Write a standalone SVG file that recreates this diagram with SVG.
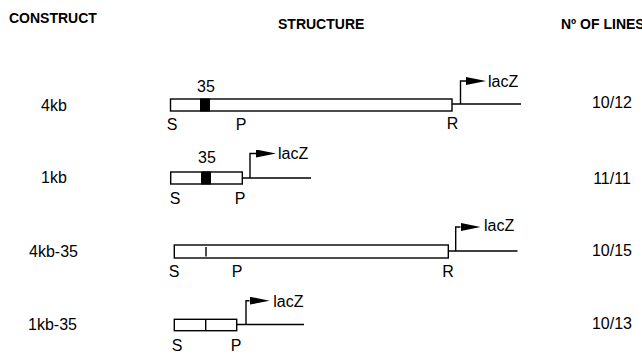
<svg xmlns="http://www.w3.org/2000/svg" width="642" height="354" viewBox="0 0 642 354">
<style>
text{font-family:"Liberation Sans",Arial,sans-serif;fill:#000}
.h{font-size:14px;font-weight:bold}
.t{font-size:16px}
.m{text-anchor:middle}
.box{fill:#fff;stroke:#000;stroke-width:1.4}
.ln{fill:none;stroke:#000;stroke-width:1.4}
.blk{fill:#000}
</style>
<defs>
<marker id="ah" viewBox="0 0 20 8" refX="0" refY="4" markerWidth="20" markerHeight="8" markerUnits="userSpaceOnUse" orient="auto">
<path d="M0,0 L20,4 L0,8 Z" fill="#000"/>
</marker>
</defs>
<g id="headers">
<text class="h" x="9" y="23">CONSTRUCT</text>
<text class="h" x="278" y="28.7">STRUCTURE</text>
<text class="h" x="561" y="28.7">Nº OF LINES</text>
</g>
<g id="labels">
<text class="t m" x="54" y="110.5">4kb</text>
<text class="t m" x="54" y="183">1kb</text>
<text class="t m" x="53.5" y="257">4kb-35</text>
<text class="t m" x="52.5" y="329.5">1kb-35</text>
<text class="t m" x="612" y="108">10/12</text>
<text class="t m" x="612" y="183.5">11/11</text>
<text class="t m" x="612" y="255.5">10/15</text>
<text class="t m" x="612" y="328.5">10/13</text>
</g>
<g id="construct-4kb">
<rect class="box" x="170.5" y="99" width="281.5" height="12"/>
<rect class="blk" x="200" y="98.5" width="10" height="13"/>
<text class="t m" x="206" y="92">35</text>
<text class="t m" x="172" y="129.5">S</text>
<text class="t m" x="241" y="129.5">P</text>
<text class="t m" x="452.5" y="129">R</text>
<text class="t" x="488" y="87">lacZ</text>
</g>
<g id="construct-1kb">
<rect class="box" x="170.7" y="172" width="71.6" height="12"/>
<rect class="blk" x="201" y="171.5" width="10" height="13"/>
<text class="t m" x="207" y="163">35</text>
<text class="t m" x="175" y="204">S</text>
<text class="t m" x="240" y="204">P</text>
<text class="t" x="278" y="159">lacZ</text>
</g>
<g id="construct-4kb-35">
<rect class="box" x="174.3" y="245" width="274" height="13"/>
<line class="ln" x1="206" y1="247" x2="206" y2="256.5"/>
<text class="t m" x="174" y="277">S</text>
<text class="t m" x="237" y="277">P</text>
<text class="t m" x="448" y="276.5">R</text>
<text class="t" x="484" y="231">lacZ</text>
</g>
<g id="construct-1kb-35">
<rect class="box" x="174.3" y="319.3" width="62.4" height="11.4"/>
<line class="ln" x1="205.7" y1="319.3" x2="205.7" y2="330.7"/>
<text class="t m" x="177" y="350.5">S</text>
<text class="t m" x="236" y="350.5">P</text>
<text class="t" x="273.3" y="306.7">lacZ</text>
</g>
<g id="connectors">
<line class="ln" x1="452" y1="104" x2="521" y2="104"/>
<polyline class="ln" points="460.5,104 460.5,81 466,81" marker-end="url(#ah)"/>
<line class="ln" x1="242.3" y1="178" x2="311" y2="178"/>
<polyline class="ln" points="250,178 250,153.5 256,153.5" marker-end="url(#ah)"/>
<line class="ln" x1="448.3" y1="251" x2="517.5" y2="251"/>
<polyline class="ln" points="455.7,251 455.7,227 460.5,227" marker-end="url(#ah)"/>
<line class="ln" x1="236.7" y1="324.5" x2="304" y2="324.5"/>
<polyline class="ln" points="246,324.5 246,300.7 249.5,300.7" marker-end="url(#ah)"/>
</g>
</svg>
